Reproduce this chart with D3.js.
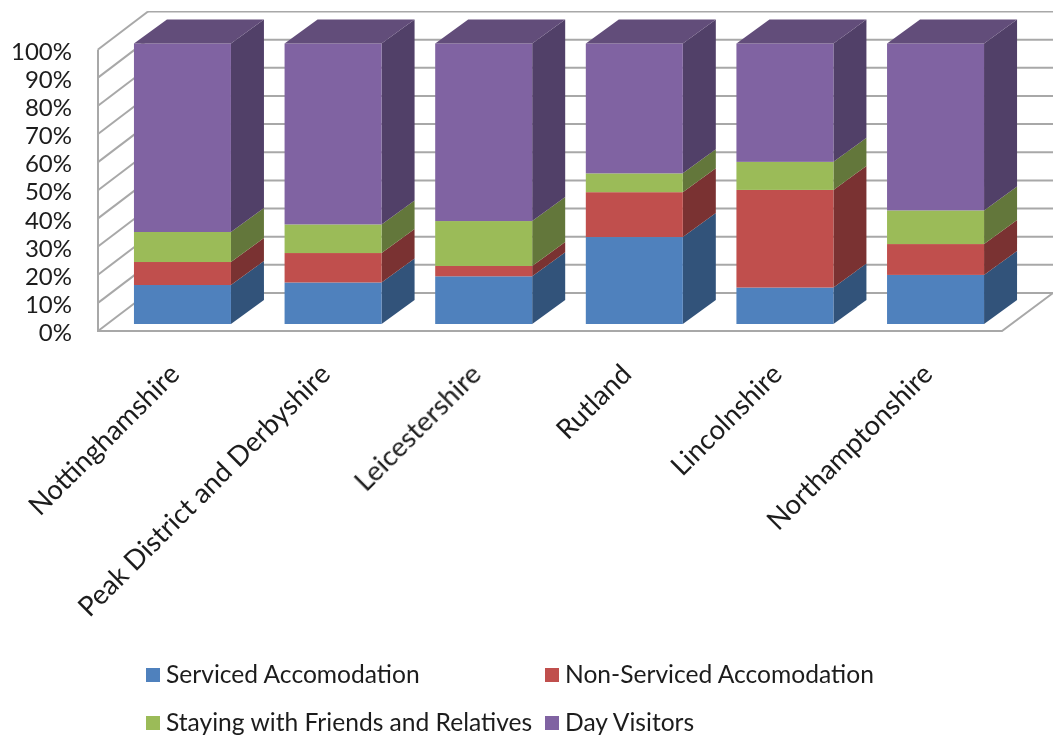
<!DOCTYPE html>
<html><head><meta charset="utf-8">
<style>html,body{margin:0;background:#fff}svg{display:block}text{font-family:Lato,"Open Sans",sans-serif;fill:#1c1c1c}</style>
<script src="https://cdnjs.cloudflare.com/ajax/libs/d3/7.8.5/d3.min.js"></script>
</head><body><svg id="c" width="1054" height="736"><defs><filter id="soft" x="0" y="0" width="100%" height="100%"><feGaussianBlur stdDeviation="0.45"/></filter></defs></svg>
<script>
const categories=["Nottinghamshire","Peak District and Derbyshire","Leicestershire","Rutland","Lincolnshire","Northamptonshire"];
const seriesNames=["Serviced Accomodation","Non-Serviced Accomodation","Staying with Friends and Relatives","Day Visitors"];
const serviced=[13.9,14.8,17.0,31.0,13.0,17.5];
const nonServiced=[8.2,10.5,3.7,16.0,34.8,11.0];
const friends=[10.7,10.2,16.0,6.7,10.0,12.0];
const dayVisitors=[67.2,64.5,63.3,46.3,42.2,59.5];
const tickValues=[0,10,20,30,40,50,60,70,80,90,100];
const colors=["#4f81bd","#c0504d","#9bbb59","#8064a2"];
const sideColors=["#31527a","#7a3230","#64773a","#513f68"];
const topColor="#624d7a";

const root=d3.select("#c").append("g").attr("filter","url(#soft)");
const dx=33,dy=-24;
const x=d3.scaleBand().domain(categories).range([107.6,1010.4]).paddingInner(0.356).paddingOuter(0.175);
const y=d3.scaleLinear().domain([0,100]).range([324,43.5]);
const yWall=d3.scaleLinear().domain([0,100]).range([331,49.5]);
const wallDx=50,wallDy=-38;
const grid="#a8a8a8";
const g=root.append("g");
g.selectAll(".h").data(tickValues).join("line").attr("x1",98+wallDx).attr("x2",1053)
 .attr("y1",d=>yWall(d)+wallDy).attr("y2",d=>yWall(d)+wallDy).attr("stroke",grid).attr("stroke-width",2);
g.selectAll(".d").data(tickValues).join("line").attr("x1",98).attr("x2",98+wallDx)
 .attr("y1",d=>yWall(d)).attr("y2",d=>yWall(d)+wallDy).attr("stroke",grid).attr("stroke-width",2);
g.append("path").attr("d",`M98,${yWall(100)}V${yWall(0)}H1002L1053,${yWall(0)+wallDy}`)
 .attr("fill","none").attr("stroke",grid).attr("stroke-width",2);

const rows=categories.map((c,i)=>({c,a:serviced[i],b:nonServiced[i],d:friends[i],e:dayVisitors[i]}));
const stacked=d3.stack().keys(["a","b","d","e"])(rows);
const bars=root.append("g");
stacked.forEach((layer,k)=>{
  const s=bars.append("g");
  s.selectAll(".side").data(layer).join("path").attr("fill",sideColors[k]).attr("d",(d,i)=>{
    const r=x(categories[i])+x.bandwidth();
    return `M${r},${y(d[0])}L${r+dx},${y(d[0])+dy}L${r+dx},${y(d[1])+dy}L${r},${y(d[1])}Z`;});
  s.selectAll(".front").data(layer).join("rect").attr("fill",colors[k])
   .attr("x",(d,i)=>x(categories[i])).attr("width",x.bandwidth())
   .attr("y",d=>y(d[1])).attr("height",d=>y(d[0])-y(d[1]));
  if(k===3) s.selectAll(".top").data(layer).join("path").attr("fill",topColor).attr("d",(d,i)=>{
    const l=x(categories[i]),r=l+x.bandwidth(),t=y(d[1]);
    return `M${l},${t}L${l+dx},${t+dy}H${r+dx}L${r},${t}Z`;});
});

const axis=d3.axisLeft(yWall).tickValues(tickValues).tickFormat(d=>d+"%").tickSize(0).tickPadding(0);
const ag=root.append("g").attr("transform","translate(72,2)").call(axis);
ag.select(".domain").remove();
ag.selectAll("text").attr("font-size",24).attr("fill","#1c1c1c").style("font-family",'Lato,sans-serif');

root.append("g").selectAll("text").data(categories).join("text")
 .attr("text-anchor","end").attr("font-size",27.4)
 .attr("transform",d=>`translate(${x(d)+x.bandwidth()/2-8},369) rotate(-45)`)
 .attr("dy","0.35em").text(d=>d);

const legendCols=[146,545],legendRows=[668,716];
const leg=root.append("g").selectAll("g").data(seriesNames).join("g")
 .attr("transform",(d,i)=>`translate(${legendCols[i%2]},${legendRows[i>>1]})`);
leg.append("rect").attr("width",14).attr("height",14).attr("fill",(d,i)=>colors[i]);
leg.append("text").attr("x",20).attr("y",15).attr("font-size",24.6).text(d=>d);
</script></body></html>
